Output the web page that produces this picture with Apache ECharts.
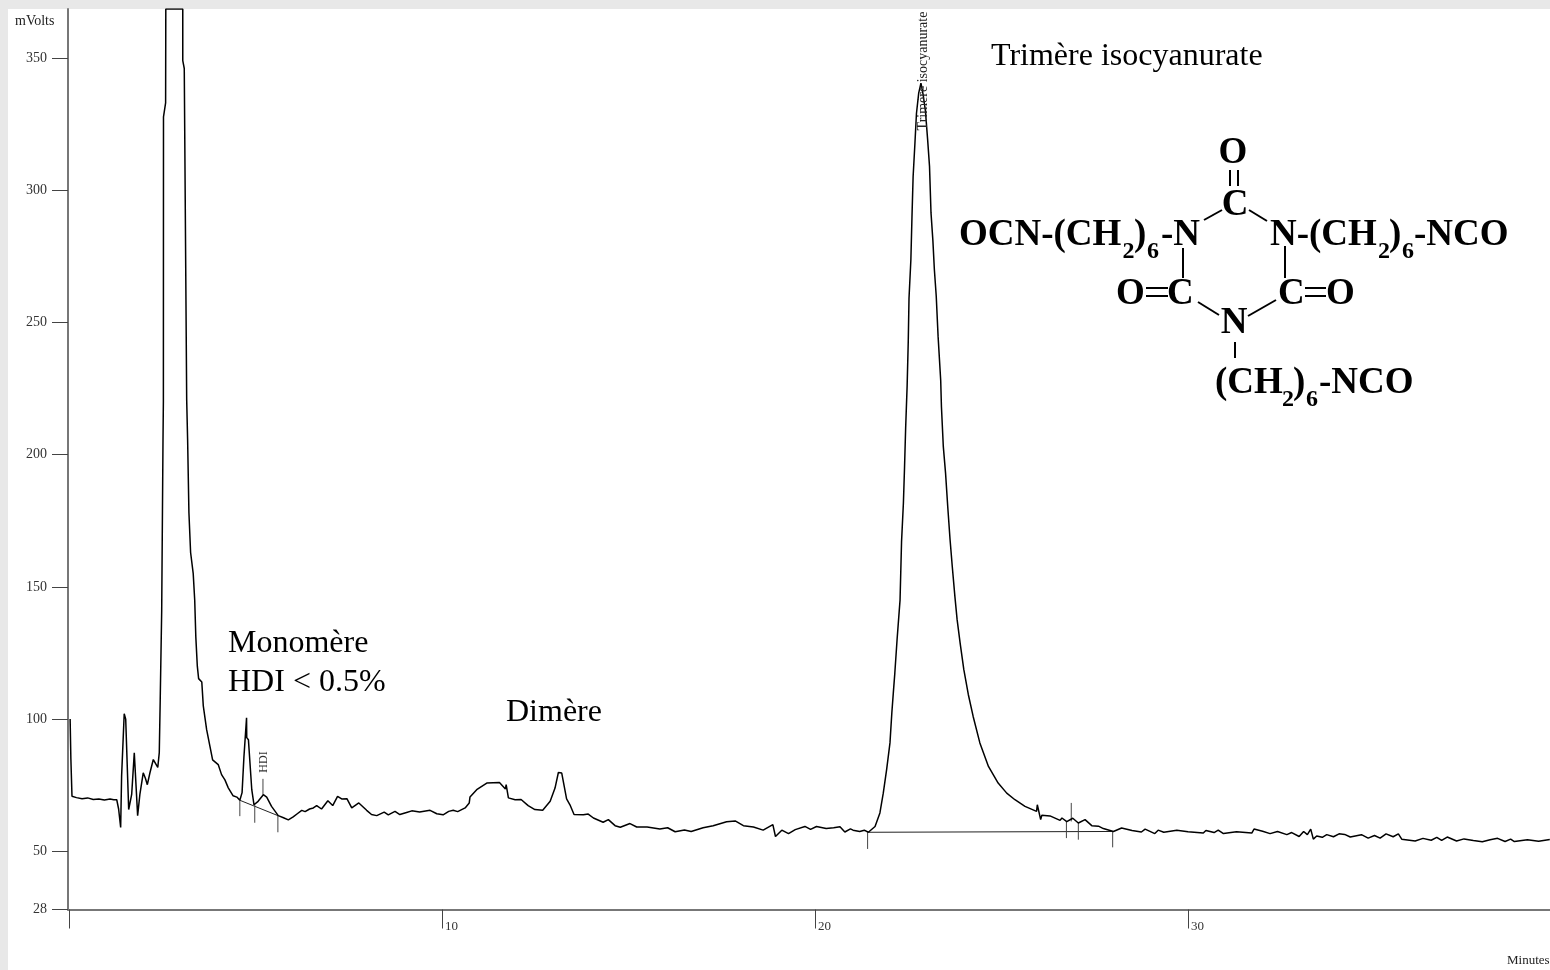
<!DOCTYPE html>
<html>
<head>
<meta charset="utf-8">
<style>html,body{margin:0;padding:0;background:#e8e8e8;overflow:hidden}#c{width:1550px;height:970px}</style>
<script src="https://cdn.jsdelivr.net/npm/echarts@6/dist/echarts.min.js"></script>
</head>
<body>
<div id="c"></div>
<script>
// Chromatogram trace: retention time (minutes) and detector signal (mV)
const times = [
0.03,0.05,0.08,0.2,0.35,0.5,0.65,0.8,0.95,1.1,1.2,1.28,1.33,1.385,1.41,1.48,1.52,1.6,1.68,1.75,1.8,1.84,1.9,1.99,2.05,2.1,2.17,2.26,2.31,2.38,2.42,2.445,2.485,2.52,2.53,2.533,2.59,2.595,3.05,3.05,3.09,3.155,3.18,3.215,3.26,3.33,3.37,3.40,3.44,3.475,3.56,3.60,3.69,3.78,3.85,4.0,4.09,4.18,4.27,4.40,4.50,4.58,4.64,4.69,4.76,4.765,4.81,4.90,4.96,5.07,5.21,5.30,5.43,5.61,5.75,5.88,6.01,6.12,6.24,6.33,6.45,6.55,6.64,6.77,6.94,7.07,7.2,7.31,7.45,7.58,7.77,7.98,8.11,8.25,8.45,8.56,8.74,8.87,9.05,9.19,9.4,9.68,9.86,10.03,10.18,10.3,10.42,10.62,10.73,10.75,10.93,11.2,11.54,11.7,11.72,11.78,11.96,12.12,12.31,12.49,12.7,12.9,13.03,13.12,13.21,13.34,13.43,13.54,13.79,13.92,14.06,14.32,14.46,14.64,14.78,15.04,15.22,15.5,15.84,16.05,16.25,16.5,16.68,17.0,17.27,17.63,17.86,18.08,18.35,18.61,18.87,18.94,19.11,19.29,19.47,19.73,19.88,20.04,20.3,20.5,20.67,20.8,20.95,21.02,21.2,21.32,21.43,21.61,21.74,21.83,21.92,22.01,22.06,22.1,22.14,22.2,22.26,22.28,22.32,22.37,22.4,22.43,22.47,22.5,22.52,22.57,22.6,22.63,22.68,22.72,22.78,22.84,22.9,22.96,23.02,23.07,23.11,23.16,23.2,23.25,23.3,23.37,23.39,23.44,23.5,23.56,23.62,23.68,23.75,23.81,23.89,23.99,24.11,24.24,24.42,24.65,24.91,25.14,25.36,25.63,25.94,25.96,26.05,26.08,26.3,26.57,26.62,26.75,26.91,27.06,27.24,27.42,27.6,27.73,28.0,28.22,28.5,28.75,28.85,29.11,29.2,29.35,29.7,30.0,30.41,30.48,30.7,30.81,30.95,31.3,31.71,31.77,32.0,32.2,32.4,32.65,32.78,32.98,33.1,33.2,33.29,33.36,33.45,33.6,33.72,33.9,34.05,34.2,34.35,34.65,34.83,35.0,35.15,35.31,35.5,35.64,35.73,36.09,36.3,36.52,36.67,36.8,36.95,37.2,37.4,37.65,37.89,38.1,38.3,38.5,38.65,38.75,39.1,39.4,39.7
];
const signal = [
100,85,70.8,70.3,69.9,70.2,69.6,69.8,69.4,69.8,69.5,69.5,66,59,78.4,102,100,65.8,71.5,87.3,87.3,63.5,71.5,79.7,77.5,75.2,79.7,84.7,84.9,81.7,87.3,107,141,205.6,220,327.7,333,368.5,368.5,349,346,220.7,205.6,178,163,155,145,131,120,115.3,114,105,96,89.6,84.6,82.8,79,77,74,71,70.5,69.3,72.2,85.8,100.5,93,92.2,73.3,67.6,68.9,71.4,70.5,67,63.5,62.7,61.9,63,64.2,65.5,65,66,66.4,67.3,66,69.1,67.3,70.8,69.8,69.9,66.4,68.3,65.5,63.9,63.5,64.8,63.8,65.1,63.9,64.7,65.3,64.9,65.5,64.2,63.8,65.1,65.5,65,66.4,68.3,70.5,73.3,75.8,76,73.6,75.2,70.2,69.5,69.6,67.3,65.8,65.5,68.9,73.9,79.8,79.6,69.8,67.6,63.9,63.8,64.1,62.6,61,62,59.7,59.1,60.5,59.2,59.2,58.4,58.9,57.4,58.1,57.5,58.9,59.7,61.2,61.5,59.7,59.2,58,60.1,55.6,58,56.7,58.2,59.4,58.3,59.4,58.6,58.9,59.3,57.3,58.5,58,57.5,58,57.2,59.4,64.5,72,80.9,91,102.4,110,117.4,130,141.3,145,167,181.7,195,210,226,242.8,259,273.6,290,305,318,329,336.7,340.5,336,330,319,309,291.4,281,270,260,244.7,228,218,203,193,180,168,157.7,146.4,137.6,128.8,118.7,109.3,101,91,82.1,75.8,72,69.5,67,65.1,67.6,62,63.6,63.4,61.7,62.6,61.2,62.5,60.7,62,59.7,59.5,58.6,57.5,58.8,57.9,57.3,58.4,56.7,58,57.2,58,57.4,56.9,57.9,57.1,58,56.7,57.4,56.9,58.4,57.6,56.7,57.5,56.3,57.1,55.6,57.5,56.3,58.4,54.6,55.8,55.3,56.3,55.5,56.6,56.4,55.4,56.3,55,56,55,56.6,55.5,56.6,54.6,53.9,54.9,54.2,55.3,54.1,55.4,53.9,54.7,54.1,53.6,54.4,54.9,53.7,54.6,53.7,54.4,53.8,54.5
];
// Integration baselines: [t, mV] end points
const baselineA = [[4.58,69.3],[5.60,63.5]];
const baselineB = [[21.43,57.2],[28.0,57.5]];
// Peak-event ticks
const eventTimes = [4.58,4.98,5.60,5.20,21.41,26.74,26.87,27.06,27.98];
const eventTop = [69.3,67.6,63.5,77.4,57.2,61.3,68.3,60.7,57.6];
const eventBottom = [63.3,60.8,57.2,71.4,50.9,55,61.3,54.4,51.5];
// Axis ticks
const yTicks = [28,50,100,150,200,250,300,350];
const xTicks = [0,10,20,30];
const xLabels = [10,20,30];
// Text
const yTitle = 'mVolts', xTitle = 'Minutes';
const peakHDI = 'HDI', peakTrimer = 'Trimère isocyanurate';

const serif = '"Liberation Serif","Times New Roman",serif';
const trace = times.map((t,i)=>[t,signal[i]]);
const events = [];
eventTimes.forEach((t,i)=>{events.push([t,eventTop[i]],[t,eventBottom[i]],[t,null]);});

function txt(s,x,y,size,opt){
  opt=opt||{};
  return {type:'text',x:x,y:y+Math.round(size*0.07),rotation:opt.rot||0,silent:true,z:10,style:{text:s,fill:opt.fill||'#000',
    font:(opt.bold?'bold ':'')+size+'px '+serif,textAlign:opt.align||'left',textVerticalAlign:'middle',textBaseline:'middle'}};
}
function bond(x1,y1,x2,y2){
  return {type:'line',silent:true,z:10,shape:{x1,y1,x2,y2},style:{stroke:'#000',lineWidth:2}};
}
const B={bold:true}, S=24, F=37;
const graphics = [
  {type:'rect',silent:true,z:-10,shape:{x:8,y:9,width:1542,height:961},style:{fill:'#fff'}},
  txt(yTitle,15,20,14,{fill:'#222'}),
  txt(xTitle,1507,960,13,{fill:'#222'}),
  txt(peakHDI,264,761,12,{rot:Math.PI/2,align:'center',fill:'#333'}),
  txt(peakTrimer,923,70,14,{rot:Math.PI/2,align:'center',fill:'#222'}),
  txt('Trimère isocyanurate',991,55,32),
  txt('Monomère',228,642,32),
  txt('HDI < 0.5%',228,681,32),
  txt('Dimère',506,711,32),
  // Structure
  txt('O',1233,150,F,{bold:true,align:'center'}),
  txt('C',1235,202,F,{bold:true,align:'center'}),
  txt('OCN-(CH',959,232,F,B), txt('2',1122.6,250,S,B), txt(')',1134,232,F,B), txt('6',1147,250,S,B), txt('-N',1161,232,F,B),
  txt('N-(CH',1270,232,F,B), txt('2',1378,250,S,B), txt(')',1389,232,F,B), txt('6',1402,250,S,B), txt('-NCO',1414,232,F,B),
  txt('O',1116,291,F,B), txt('C',1167,291,F,B),
  txt('C',1278,291,F,B), txt('O',1326,291,F,B),
  txt('N',1234,320,F,{bold:true,align:'center'}),
  txt('(CH',1215,380,F,B), txt('2',1282,398,S,B), txt(')',1293,380,F,B), txt('6',1306,398,S,B), txt('-NCO',1319,380,F,B),
  bond(1230,170,1230,186), bond(1238,170,1238,186),
  bond(1204,220,1222,210), bond(1249,210,1267,221),
  bond(1183,248,1183,278), bond(1285,246,1285,278),
  bond(1146,288,1168,288), bond(1146,296,1168,296),
  bond(1305,288,1326,288), bond(1305,296,1326,296),
  bond(1198,302,1219,315), bond(1248,316,1276,300),
  bond(1235,342,1235,358)
];

const chart = echarts.init(document.getElementById('c'),null,{renderer:'canvas'});
chart.setOption({
  animation:false,
  backgroundColor:'transparent',
  textStyle:{fontFamily:serif},
  grid:{left:68,top:9,right:0,height:900.5,containLabel:false},
  xAxis:{type:'value',min:-0.027,max:39.705,splitLine:{show:false},
    axisLine:{show:true,onZero:false,lineStyle:{color:'#777',width:2}},
    axisTick:{show:true,length:19,customValues:xTicks,lineStyle:{color:'#444',width:1}},
    axisLabel:{show:true,customValues:xLabels,align:'left',margin:11,fontSize:13,color:'#333',padding:[0,0,0,3],fontFamily:serif}},
  yAxis:{type:'value',min:28,max:368.5,splitLine:{show:false},
    axisLine:{show:true,onZero:false,lineStyle:{color:'#777',width:2}},
    axisTick:{show:true,length:16,customValues:yTicks,lineStyle:{color:'#444',width:1}},
    axisLabel:{show:true,customValues:yTicks,margin:21,fontSize:14,color:'#333',fontFamily:serif}},
  series:[
    {type:'line',name:'Signal',data:trace,showSymbol:false,smooth:false,clip:true,lineStyle:{color:'#000',width:1.5},z:5},
    {type:'line',name:'Baseline A',data:baselineA,showSymbol:false,lineStyle:{color:'#222',width:1},z:4},
    {type:'line',name:'Baseline B',data:baselineB,showSymbol:false,lineStyle:{color:'#222',width:1},z:4},
    {type:'line',name:'Events',data:events,showSymbol:false,connectNulls:false,lineStyle:{color:'#444',width:1},z:4}
  ],
  graphic:graphics
});
</script>
</body>
</html>
